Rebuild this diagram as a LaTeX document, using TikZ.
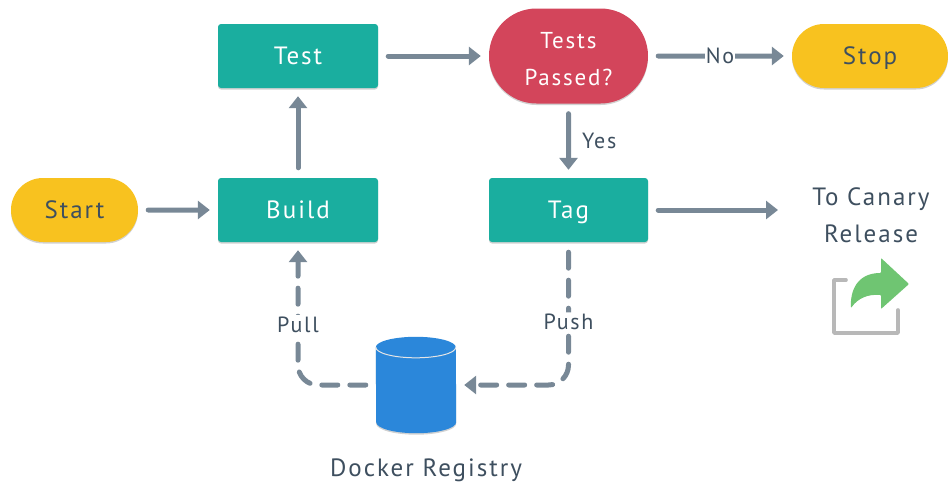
\documentclass[tikz,border=0pt]{standalone}
\usepackage{fontspec}
\setmainfont[LetterSpace=8]{PT Sans}
\usetikzlibrary{shapes.geometric,shapes.misc,arrows.meta,shadows}
\definecolor{stepteal}{HTML}{1AAE9F}
\definecolor{stopyellow}{HTML}{F8C21F}
\definecolor{checkred}{HTML}{D3455B}
\definecolor{dbblue}{HTML}{2B87DA}
\definecolor{linegray}{HTML}{788896}
\definecolor{labelgray}{HTML}{3E4F5F}
\definecolor{framegray}{HTML}{B8B8B8}
\definecolor{sharegreen}{HTML}{6FC572}
\tikzset{softshadow/.style={drop shadow={shadow xshift=0pt, shadow yshift=-1.5pt, opacity=.18, fill=black}}}

\begin{document}
\begin{tikzpicture}[x=1pt, y=-1pt,
    stepbox/.style={draw=none, fill=stepteal, rectangle, rounded corners=3pt, minimum width=160pt, minimum height=64pt, inner sep=0pt, text=white, text height=18pt, text depth=2pt, font=\fontsize{25}{25}\selectfont, softshadow},
    endpill/.style={draw=none, fill=stopyellow, rounded rectangle, minimum height=64pt, inner sep=0pt, text=labelgray, text height=18pt, text depth=2pt, font=\fontsize{25}{25}\selectfont, softshadow},
    lbl/.style={text=labelgray, inner sep=2pt, font=\fontsize{22}{22}\selectfont},
    bigtext/.style={text=labelgray, align=center, inner sep=0pt, font=\fontsize{25}{37}\selectfont},
    flow/.style={draw=linegray, line width=5pt, line cap=round, -{Triangle[length=12pt,width=18pt]}, shorten <=10pt, shorten >=8pt},
    dashflow/.style={flow, dash pattern=on 16pt off 12pt, rounded corners=20pt}]
    \useasboundingbox (0,0) rectangle (948,482);

    % Nodes
    \node[endpill, minimum width=127pt] (start) at (74.5,210) {Start};
    \node[stepbox] (build) at (298,210) {Build};
    \node[stepbox] (test) at (298,56) {Test};
    \node[draw=none, fill=checkred, rounded rectangle, minimum width=159pt, minimum height=95pt, inner sep=0pt, text=white, align=center, font=\fontsize{23}{37}\selectfont, softshadow] (passed) at (568.5,56) {\rule{0pt}{23pt}Tests\\Passed?};
    \node[endpill, minimum width=156pt] (stop) at (870,56) {Stop};
    \node[stepbox, minimum width=159pt] (tag) at (568.5,210) {Tag};
    \node[minimum width=80pt, minimum height=96pt, inner sep=0pt] (registry) at (416,385) {};
    \node[bigtext] (registrytext) at (426,470) {Docker Registry};
    \node[bigtext] (canary) at (871,215.5) {To Canary\\Release};
    \coordinate (release) at (786,210);

    % Registry drum
    \fill[dbblue, softshadow] ([yshift=-10.5pt]registry.north west) arc (180:0:40pt and 10.5pt) -- ([yshift=11pt]registry.south east) arc (0:-180:40pt and 11pt) -- cycle;
    \draw[white!80!gray, line width=1pt] ([yshift=-10.5pt]registry.north west) arc (180:360:40pt and 10.5pt);

    % Connectors
    \draw[flow] (start) -- (build);
    \draw[flow] (build) -- (test);
    \draw[flow] (test) -- (passed);
    \draw[flow] (passed) -- node[lbl, fill=white, inner sep=1pt] (no) {No} (stop);
    \draw[flow] (passed) -- node[lbl, right=9pt] (yes) {Yes} (tag);
    \draw[flow] (tag) -- (release);
    \draw[dashflow] (tag) |- node[lbl, fill=white, pos=.28] (push) {Push} (registry);
    \draw[dashflow] (registry) -| node[lbl, fill=white, pos=.71] (pull) {Pull} (build);

    % Share icon
    \draw[framegray, line width=3.6pt, line cap=round, line join=round] (846,280) -- (834,280) -- (834,333) -- (898,333) -- (898,310);
    \fill[sharegreen, rounded corners=.8pt] (909,284) -- (881,258) -- (881,273) .. controls (857,273) and (850,291) .. (851,308) .. controls (858,298) and (868,294) .. (881,295) -- (881,309) -- cycle;
\end{tikzpicture}
\end{document}
